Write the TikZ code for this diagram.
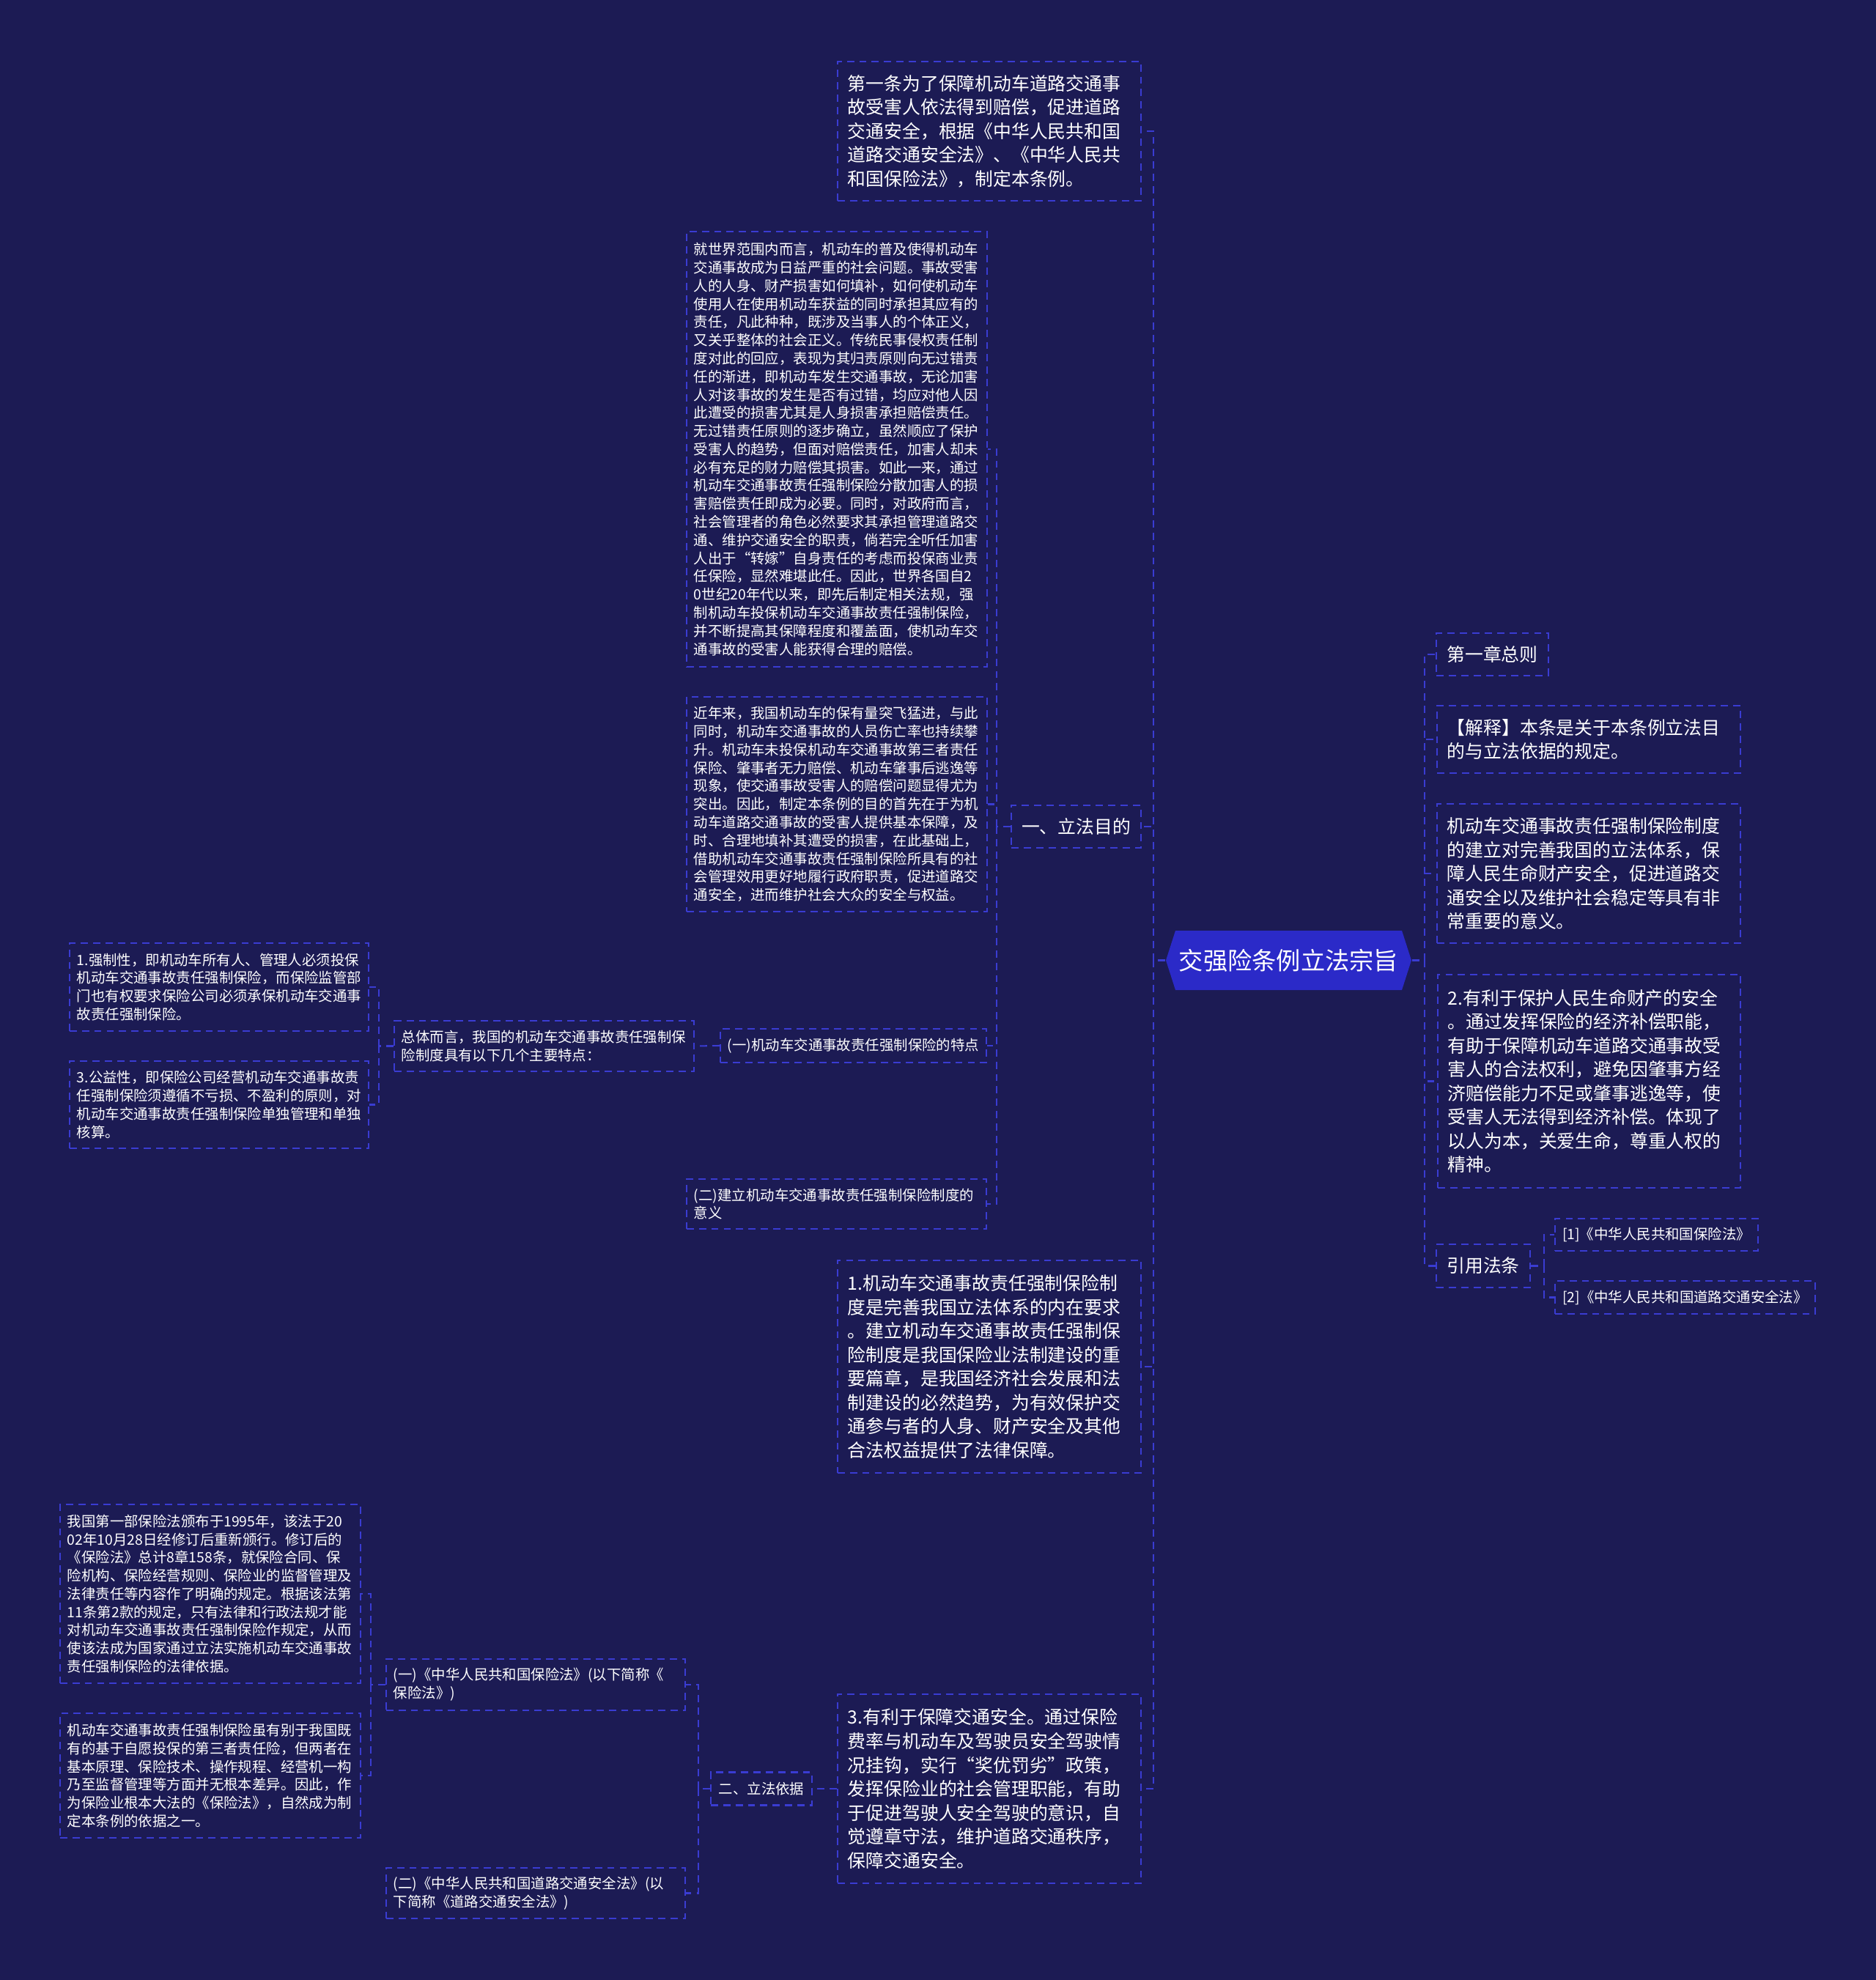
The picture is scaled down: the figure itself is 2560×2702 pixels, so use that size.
\documentclass[tikz,border=0pt]{standalone}
\usepackage{fontspec}
\setmainfont{Noto Sans CJK SC}
\usepackage{xcolor}
\definecolor{mapbg}{RGB}{28,27,84}
\definecolor{mapedge}{RGB}{58,60,210}
\definecolor{maproot}{RGB}{43,42,200}
\usepackage{tikz}

\begin{document}
\begin{tikzpicture}[
  x=0.01cm,y=-0.01cm,
  box/.style={draw=mapedge,line width=0.6pt,dash pattern=on 2.8pt off 2pt,fill=mapbg,text=white,inner xsep=0.14cm,inner ysep=0pt,align=left},
  big/.style={box,font=\fontsize{7.06pt}{9.25pt}\selectfont},
  small/.style={box,inner xsep=0.1cm,font=\fontsize{5.52pt}{7.05pt}\selectfont},
  link/.style={draw=mapedge,line width=0.6pt,dash pattern=on 2.8pt off 2pt}
]
\fill[mapbg] (0,0) rectangle (2560,2702);
\useasboundingbox (0,0) rectangle (2560,2702);
\fill[maproot] (1591,1310.5) -- (1604,1270) -- (1913,1270) -- (1926,1310.5) -- (1913,1351) -- (1604,1351) -- cycle;
\node[text=white,font=\fontsize{9.45pt}{11pt}\selectfont,minimum width=3.35cm,minimum height=0.81cm,inner sep=0pt] (root) at (1758.5,1310.5) {交强险条例立法宗旨};
% left side
\node[big,minimum width=4.14cm,minimum height=1.90cm,text width=3.86cm] (art) at (1350,179)
  {第一条为了保障机动车道路交通事\\故受害人依法得到赔偿，促进道路\\交通安全，根据《中华人民共和国\\道路交通安全法》、《中华人民共\\和国保险法》，制定本条例。};
\node[big,minimum width=1.75cm,minimum height=0.58cm] (purpose) at (1468.5,1128) {一、立法目的};
\node[small,minimum width=4.10cm,minimum height=5.94cm,text width=3.90cm] (world) at (1142,613)
  {就世界范围内而言，机动车的普及使得机动车\\交通事故成为日益严重的社会问题。事故受害\\人的人身、财产损害如何填补，如何使机动车\\使用人在使用机动车获益的同时承担其应有的\\责任，凡此种种，既涉及当事人的个体正义，\\又关乎整体的社会正义。传统民事侵权责任制\\度对此的回应，表现为其归责原则向无过错责\\任的渐进，即机动车发生交通事故，无论加害\\人对该事故的发生是否有过错，均应对他人因\\此遭受的损害尤其是人身损害承担赔偿责任。\\无过错责任原则的逐步确立，虽然顺应了保护\\受害人的趋势，但面对赔偿责任，加害人却未\\必有充足的财力赔偿其损害。如此一来，通过\\机动车交通事故责任强制保险分散加害人的损\\害赔偿责任即成为必要。同时，对政府而言，\\社会管理者的角色必然要求其承担管理道路交\\通、维护交通安全的职责，倘若完全听任加害\\人出于“转嫁”自身责任的考虑而投保商业责\\任保险，显然难堪此任。因此，世界各国自2\\0世纪20年代以来，即先后制定相关法规，强\\制机动车投保机动车交通事故责任强制保险，\\并不断提高其保障程度和覆盖面，使机动车交\\通事故的受害人能获得合理的赔偿。};
\node[small,minimum width=4.10cm,minimum height=2.93cm,text width=3.90cm] (recent) at (1142,1097.5)
  {近年来，我国机动车的保有量突飞猛进，与此\\同时，机动车交通事故的人员伤亡率也持续攀\\升。机动车未投保机动车交通事故第三者责任\\保险、肇事者无力赔偿、机动车肇事后逃逸等\\现象，使交通事故受害人的赔偿问题显得尤为\\突出。因此，制定本条例的目的首先在于为机\\动车道路交通事故的受害人提供基本保障，及\\时、合理地填补其遭受的损害，在此基础上，\\借助机动车交通事故责任强制保险所具有的社\\会管理效用更好地履行政府职责，促进道路交\\通安全，进而维护社会大众的安全与权益。};
\node[small,minimum width=3.63cm,minimum height=0.46cm] (feat) at (1164.5,1427) {(一)机动车交通事故责任强制保险的特点};
\node[small,minimum width=4.09cm,minimum height=0.68cm,text width=3.89cm] (meaning) at (1141.5,1643)
  {(二)建立机动车交通事故责任强制保险制度的\\意义};
\node[small,minimum width=4.09cm,minimum height=0.69cm,text width=3.89cm] (overall) at (742.5,1427.5)
  {总体而言，我国的机动车交通事故责任强制保\\险制度具有以下几个主要特点：};
\node[small,minimum width=4.08cm,minimum height=1.20cm,text width=3.88cm] (comp) at (299,1347)
  {1.强制性，即机动车所有人、管理人必须投保\\机动车交通事故责任强制保险，而保险监管部\\门也有权要求保险公司必须承保机动车交通事\\故责任强制保险。};
\node[small,minimum width=4.08cm,minimum height=1.19cm,text width=3.88cm] (pub) at (299,1507.5)
  {3.公益性，即保险公司经营机动车交通事故责\\任强制保险须遵循不亏损、不盈利的原则，对\\机动车交通事故责任强制保险单独管理和单独\\核算。};
\node[big,minimum width=4.14cm,minimum height=2.90cm,text width=3.86cm] (perfect) at (1350,1865)
  {1.机动车交通事故责任强制保险制\\度是完善我国立法体系的内在要求\\。建立机动车交通事故责任强制保\\险制度是我国保险业法制建设的重\\要篇章，是我国经济社会发展和法\\制建设的必然趋势，为有效保护交\\通参与者的人身、财产安全及其他\\合法权益提供了法律保障。};
\node[big,minimum width=4.14cm,minimum height=2.58cm,text width=3.86cm] (safety) at (1350,2441)
  {3.有利于保障交通安全。通过保险\\费率与机动车及驾驶员安全驾驶情\\况挂钩，实行“奖优罚劣”政策，\\发挥保险业的社会管理职能，有助\\于促进驾驶人安全驾驶的意识，自\\觉遵章守法，维护道路交通秩序，\\保障交通安全。};
\node[small,minimum width=1.38cm,minimum height=0.45cm] (basis) at (1039,2441) {二、立法依据};
\node[small,minimum width=4.08cm,minimum height=0.70cm,text width=3.88cm] (inslaw) at (731,2299)
  {(一)《中华人民共和国保险法》(以下简称《\\保险法》)};
\node[small,minimum width=4.08cm,minimum height=0.69cm,text width=3.88cm] (roadlaw) at (731,2583.5)
  {(二)《中华人民共和国道路交通安全法》(以\\下简称《道路交通安全法》)};
\node[small,minimum width=4.10cm,minimum height=2.44cm,text width=3.90cm] (first) at (287,2175)
  {我国第一部保险法颁布于1995年，该法于20\\02年10月28日经修订后重新颁行。修订后的\\《保险法》总计8章158条，就保险合同、保\\险机构、保险经营规则、保险业的监督管理及\\法律责任等内容作了明确的规定。根据该法第\\11条第2款的规定，只有法律和行政法规才能\\对机动车交通事故责任强制保险作规定，从而\\使该法成为国家通过立法实施机动车交通事故\\责任强制保险的法律依据。};
\node[small,minimum width=4.10cm,minimum height=1.70cm,text width=3.90cm] (differ) at (287,2423)
  {机动车交通事故责任强制保险虽有别于我国既\\有的基于自愿投保的第三者责任险，但两者在\\基本原理、保险技术、操作规程、经营机一构\\乃至监督管理等方面并无根本差异。因此，作\\为保险业根本大法的《保险法》，自然成为制\\定本条例的依据之一。};
% right side
\node[big,minimum width=1.51cm,minimum height=0.58cm] (chap) at (2036.5,893) {第一章总则};
\node[big,minimum width=4.14cm,minimum height=0.92cm,text width=3.86cm] (expl) at (2168,1009)
  {【解释】本条是关于本条例立法目\\的与立法依据的规定。};
\node[big,minimum width=4.14cm,minimum height=1.90cm,text width=3.86cm] (sys) at (2168,1192)
  {机动车交通事故责任强制保险制度\\的建立对完善我国的立法体系，保\\障人民生命财产安全，促进道路交\\通安全以及维护社会稳定等具有非\\常重要的意义。};
\node[big,minimum width=4.13cm,minimum height=2.91cm,text width=3.85cm] (protect) at (2168.5,1475.5)
  {2.有利于保护人民生命财产的安全\\。通过发挥保险的经济补偿职能，\\有助于保障机动车道路交通事故受\\害人的合法权利，避免因肇事方经\\济赔偿能力不足或肇事逃逸等，使\\受害人无法得到经济补偿。体现了\\以人为本，关爱生命，尊重人权的\\精神。};
\node[big,minimum width=1.24cm,minimum height=0.59cm] (cite) at (2024,1727.5) {引用法条};
\node[small,minimum width=2.77cm,minimum height=0.44cm] (law1) at (2260.5,1685) {[1]《中华人民共和国保险法》};
\node[small,minimum width=3.55cm,minimum height=0.45cm] (law2) at (2299.5,1770.5) {[2]《中华人民共和国道路交通安全法》};
% connectors
\coordinate (lt) at ([xshift=-0.16cm]root.west);
\coordinate (rt) at ([xshift=0.17cm]root.east);
\draw[link] (root.west) -- (lt);
\draw[link] (root.east) -- (rt);
\foreach \n in {art,purpose,perfect,safety} \draw[link] (lt) |- (\n.east);
\foreach \n in {chap,expl,sys,protect,cite} \draw[link] (rt) |- (\n.west);
\coordinate (pt) at ([xshift=-0.19cm]purpose.west);
\draw[link] (purpose.west) -- (pt);
\foreach \n in {world,recent,feat,meaning} \draw[link] (pt) |- (\n.east);
\draw[link] (feat.west) -- (overall.east);
\coordinate (ot) at ([xshift=-0.20cm]overall.west);
\draw[link] (overall.west) -- (ot);
\foreach \n in {comp,pub} \draw[link] (ot) |- (\n.east);
\draw[link] (safety.west) -- (basis.east);
\coordinate (bt) at ([xshift=-0.16cm]basis.west);
\draw[link] (basis.west) -- (bt);
\foreach \n in {inslaw,roadlaw} \draw[link] (bt) |- (\n.east);
\coordinate (it) at ([xshift=-0.20cm]inslaw.west);
\draw[link] (inslaw.west) -- (it);
\foreach \n in {first,differ} \draw[link] (it) |- (\n.east);
\coordinate (ct) at ([xshift=0.18cm]cite.east);
\draw[link] (cite.east) -- (ct);
\foreach \n in {law1,law2} \draw[link] (ct) |- (\n.west);
\end{tikzpicture}
\end{document}
